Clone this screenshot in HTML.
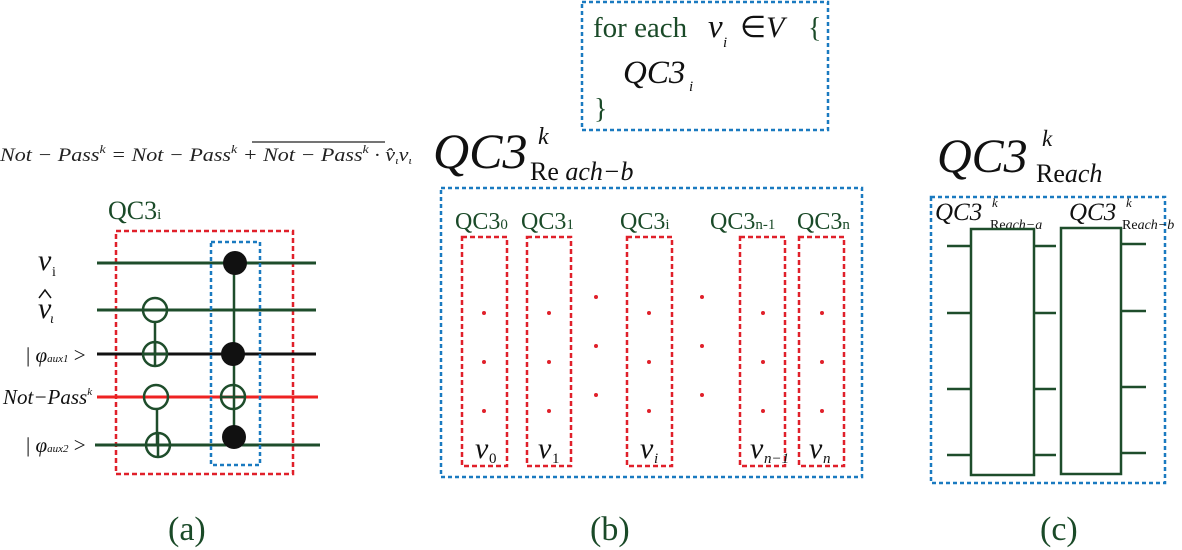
<!DOCTYPE html>
<html><head><meta charset="utf-8"><style>
html,body{margin:0;padding:0;background:#fff;}
svg{display:block;}
</style></head><body>
<svg width="1182" height="550" viewBox="0 0 1182 550" xmlns="http://www.w3.org/2000/svg" font-family="'Liberation Serif', serif">
<g fill="#1a4a28">
<text x="168" y="540" font-size="34">(a)</text>
<text x="590" y="540" font-size="34">(b)</text>
<text x="1040" y="540" font-size="34">(c)</text>
</g>
<!-- equation -->
<text x="0" y="161" font-size="19" font-style="italic" fill="#222" textLength="412" lengthAdjust="spacingAndGlyphs">Not − Pass<tspan font-size="12" dy="-8">k</tspan><tspan dy="8"> = Not − Pass</tspan><tspan font-size="12" dy="-8">k</tspan><tspan dy="8"> + Not − Pass</tspan><tspan font-size="12" dy="-8">k</tspan><tspan dy="8"> · v̂</tspan><tspan font-size="11" dy="3">ι</tspan><tspan dy="-3">v</tspan><tspan font-size="11" dy="3">ι</tspan></text>
<line x1="252" y1="142" x2="385" y2="142" stroke="#222" stroke-width="1.2"/>
<!-- (a) -->
<text x="108" y="219" font-size="26" fill="#1a4a28">QC3<tspan font-size="15">i</tspan></text>
<rect x="116" y="231" width="177" height="243" fill="none" stroke="#e0202a" stroke-width="2.5" stroke-dasharray="5,3"/>
<g stroke-width="3">
<line x1="97" y1="263" x2="316" y2="263" stroke="#1e4d2b"/>
<line x1="97" y1="310" x2="316" y2="310" stroke="#1e4d2b"/>
<line x1="97" y1="354" x2="316" y2="354" stroke="#111"/>
<line x1="97" y1="397" x2="318" y2="397" stroke="#ee2222"/>
<line x1="95" y1="445" x2="320" y2="445" stroke="#1e4d2b"/>
</g>
<rect x="211" y="242" width="49" height="223" fill="none" stroke="#1a7ac0" stroke-width="2.5" stroke-dasharray="4,3"/>
<g stroke="#1e4d2b" stroke-width="2.5" fill="none">
<line x1="155" y1="322" x2="155" y2="354"/>
<circle cx="155" cy="310" r="12"/>
<circle cx="155" cy="354" r="12"/><line x1="143" y1="354" x2="167" y2="354"/><line x1="155" y1="342" x2="155" y2="366"/>
<line x1="157" y1="409" x2="157" y2="445"/>
<circle cx="156" cy="397" r="12"/>
<circle cx="158" cy="445" r="12"/><line x1="146" y1="445" x2="170" y2="445"/><line x1="158" y1="433" x2="158" y2="457"/>
<line x1="234" y1="263" x2="234" y2="437"/>
<circle cx="233" cy="397" r="12"/><line x1="221" y1="397" x2="245" y2="397"/>
</g>
<g fill="#111"><circle cx="235" cy="263" r="12"/><circle cx="233" cy="354" r="12"/><circle cx="234" cy="437" r="12"/></g>
<g fill="#111" font-style="italic">
<text x="38" y="270" font-size="30">v</text><text x="52" y="276" font-size="14" font-style="normal">i</text>
<text x="38" y="318" font-size="30">v</text><text x="50" y="323" font-size="14">ι</text>
<path d="M39 298 L45 290 L51 298" fill="none" stroke="#111" stroke-width="1.5"/>
<text x="26" y="362" font-size="21" font-style="normal">| <tspan font-style="italic">φ</tspan><tspan font-size="11" font-style="italic">aux1</tspan> &gt;</text>
<text x="3" y="404" font-size="21">Not−Pass<tspan font-size="11" dy="-9">k</tspan></text>
<text x="26" y="452" font-size="21" font-style="normal">| <tspan font-style="italic">φ</tspan><tspan font-size="11" font-style="italic">aux2</tspan> &gt;</text>
</g>
<!-- top box -->
<rect x="582" y="2" width="246" height="128" fill="none" stroke="#1a7ac0" stroke-width="2.5" stroke-dasharray="4,3"/>
<text x="593" y="37" font-size="29" fill="#1a4a28">for each</text>
<text x="708" y="37" font-size="33" font-style="italic" fill="#111">v</text><text x="723" y="47" font-size="15" font-style="italic" fill="#111">i</text>
<text x="740" y="37" font-size="30" fill="#111">∈<tspan font-style="italic">V</tspan></text><text x="808" y="37" font-size="28" fill="#1a4a28">{</text>
<text x="623" y="83" font-size="33" font-style="italic" fill="#111">QC3</text><text x="689" y="91" font-size="15" font-style="italic" fill="#111">i</text>
<text x="594" y="118" font-size="28" fill="#1a4a28">}</text>
<!-- (b) -->
<text x="433" y="168" font-size="50" font-style="italic" fill="#111">QC3</text>
<text x="538" y="144" font-size="24" font-style="italic" fill="#111">k</text>
<text x="530" y="180" font-size="26" fill="#111">Re<tspan font-style="italic"> ach−b</tspan></text>
<rect x="441" y="188" width="421" height="289" fill="none" stroke="#1a7ac0" stroke-width="2.5" stroke-dasharray="4,3"/>
<g fill="#1a4a28" font-size="24">
<text x="455" y="229">QC3<tspan font-size="15">0</tspan></text>
<text x="521" y="229">QC3<tspan font-size="15">1</tspan></text>
<text x="620" y="229">QC3<tspan font-size="15">i</tspan></text>
<text x="710" y="229">QC3<tspan font-size="15">n-1</tspan></text>
<text x="797" y="229">QC3<tspan font-size="15">n</tspan></text>
</g>
<g fill="none" stroke="#e0202a" stroke-width="2.5" stroke-dasharray="5,3">
<rect x="462" y="237" width="45" height="229"/>
<rect x="527" y="237" width="44" height="229"/>
<rect x="627" y="237" width="45" height="229"/>
<rect x="740" y="237" width="45" height="229"/>
<rect x="799" y="237" width="45" height="229"/>
</g>
<g fill="#e0202a">
<circle cx="484" cy="313" r="2"/><circle cx="484" cy="362" r="2"/><circle cx="484" cy="411" r="2"/>
<circle cx="549" cy="313" r="2"/><circle cx="549" cy="362" r="2"/><circle cx="549" cy="411" r="2"/>
<circle cx="649" cy="313" r="2"/><circle cx="649" cy="362" r="2"/><circle cx="649" cy="411" r="2"/>
<circle cx="763" cy="313" r="2"/><circle cx="763" cy="362" r="2"/><circle cx="763" cy="411" r="2"/>
<circle cx="822" cy="313" r="2"/><circle cx="822" cy="362" r="2"/><circle cx="822" cy="411" r="2"/>
<circle cx="596" cy="297" r="2"/><circle cx="596" cy="346" r="2"/><circle cx="596" cy="395" r="2"/>
<circle cx="702" cy="297" r="2"/><circle cx="702" cy="346" r="2"/><circle cx="702" cy="395" r="2"/>
</g>
<g fill="#111" font-style="italic">
<text x="475" y="458" font-size="30">v</text><text x="489" y="463" font-size="15" font-style="normal">0</text>
<text x="538" y="458" font-size="30">v</text><text x="552" y="463" font-size="15" font-style="normal">1</text>
<text x="640" y="458" font-size="30">v</text><text x="654" y="463" font-size="15">i</text>
<text x="750" y="458" font-size="30">v</text><text x="764" y="463" font-size="15">n−1</text>
<text x="809" y="458" font-size="30">v</text><text x="823" y="463" font-size="15">n</text>
</g>
<!-- (c) -->
<text x="937" y="172" font-size="48" font-style="italic" fill="#111">QC3</text>
<text x="1042" y="146" font-size="23" font-style="italic" fill="#111">k</text>
<text x="1036" y="182" font-size="26" fill="#111">Re<tspan font-style="italic">ach</tspan></text>
<rect x="931" y="197" width="234" height="286" fill="none" stroke="#1a7ac0" stroke-width="2.5" stroke-dasharray="4,3"/>
<text x="935" y="220" font-size="25" font-style="italic" fill="#111">QC3</text><text x="992" y="207" font-size="13" font-style="italic" fill="#111">k</text>
<text x="990" y="229" font-size="14" fill="#111">Re<tspan font-style="italic">ach−a</tspan></text>
<text x="1069" y="220" font-size="25" font-style="italic" fill="#111">QC3</text><text x="1126" y="207" font-size="13" font-style="italic" fill="#111">k</text>
<text x="1122" y="229" font-size="14" fill="#111">Re<tspan font-style="italic">ach−b</tspan></text>
<g stroke="#1e4d2b" stroke-width="2.5" fill="none">
<rect x="971" y="229" width="63" height="246"/>
<rect x="1061" y="228" width="60" height="246"/>
<line x1="947" y1="246" x2="971" y2="246"/><line x1="947" y1="313" x2="971" y2="313"/><line x1="947" y1="389" x2="971" y2="389"/><line x1="947" y1="455" x2="971" y2="455"/>
<line x1="1034" y1="246" x2="1056" y2="246"/><line x1="1034" y1="313" x2="1056" y2="313"/><line x1="1034" y1="389" x2="1056" y2="389"/><line x1="1034" y1="455" x2="1056" y2="455"/>
<line x1="1121" y1="244" x2="1146" y2="244"/><line x1="1121" y1="311" x2="1146" y2="311"/><line x1="1121" y1="387" x2="1146" y2="387"/><line x1="1121" y1="453" x2="1146" y2="453"/>
</g>
</svg>
</body></html>
